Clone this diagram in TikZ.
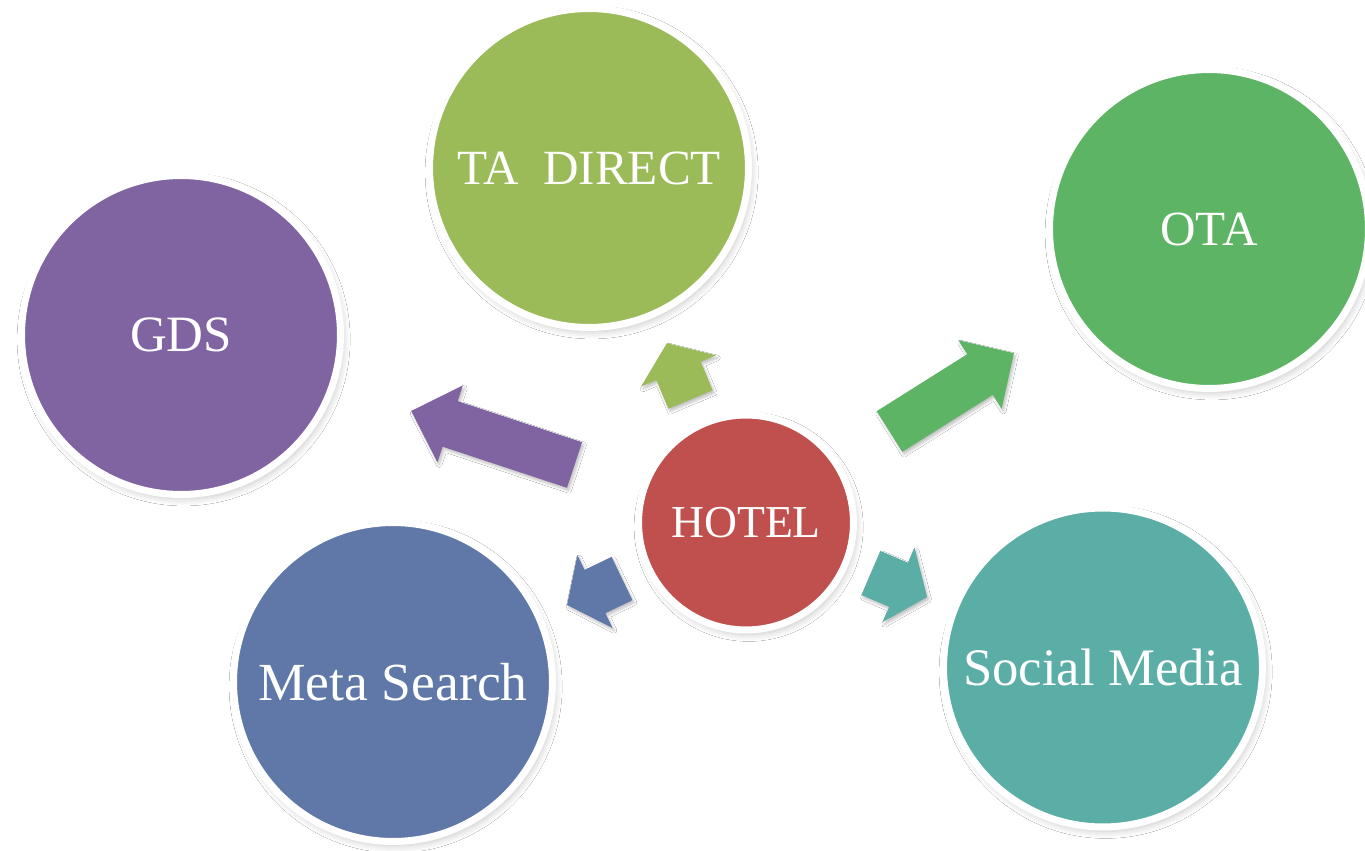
\documentclass[tikz,border=0pt]{standalone}
\usepackage{fontspec}
\setmainfont{Liberation Serif}
\usetikzlibrary{shadows,shadows.blur}

\definecolor{gdscol}{HTML}{8064A2}
\definecolor{tacol}{HTML}{9BBB59}
\definecolor{otacol}{HTML}{5CB464}
\definecolor{hotelcol}{HTML}{C0504D}
\definecolor{metacol}{HTML}{5F78A8}
\definecolor{socialcol}{HTML}{5BAEA5}

\tikzset{
  bubble/.style={circle, fill=#1, draw=white, line width=0.14cm, text=white,
    inner sep=0pt, minimum size=6.38cm, font=\fontsize{30.5}{36}\selectfont,
    blur shadow={shadow xshift=1.5pt, shadow yshift=-2.5pt, shadow blur radius=4pt,
      shadow opacity=22, shadow blur steps=12}},
  arrowshadow/.style={blur shadow={shadow xshift=1pt, shadow yshift=-1.5pt,
      shadow blur radius=1.5pt, shadow opacity=25, shadow blur steps=6}}
}

% block arrow: colour, tail middle, angle, length, head length
\newcommand{\blockarrow}[5]{%
  \begin{scope}[shift={(#2)}, rotate=#3]
    \fill[#1, arrowshadow] (0,-24) -- ({#4-#5},-24) -- ({#4-#5},-40.5) -- (#4,0)
      -- ({#4-#5},40.5) -- ({#4-#5},24) -- (0,24) -- cycle;
  \end{scope}}

\begin{document}
\begin{tikzpicture}[x=0.02cm, y=-0.02cm]
  \useasboundingbox[fill=white] (0,0) rectangle (1365,851);
  \clip (0,0) rectangle (1365,851);

  % outer circles
  \node[bubble=gdscol, font=\fontsize{29}{35}\selectfont] (gds) at (181,335) {GDS};
  \node[bubble=tacol, font=\fontsize{28}{34}\selectfont] (tadirect) at (589,168) {TA\ \ DIRECT};
  \node[bubble=otacol, font=\fontsize{28}{34}\selectfont] (ota) at (1209,229) {OTA};
  \node[bubble=metacol] (meta) at (393,682) {Meta Search};
  \node[bubble=socialcol, font=\fontsize{30}{36}\selectfont] (social) at (1103,667.5) {Social Media};

  % hotel in the middle
  \node[bubble=hotelcol, minimum size=4.3cm, font=\fontsize{26}{32}\selectfont] (hotel) at (746,522.5) {HOTEL};

  % arrows
  \blockarrow{gdscol}{574.5,465}{161.7}{172}{41}
  \blockarrow{tacol}{690.5,399.5}{112.6}{61}{30}
  \blockarrow{otacol}{889.5,431.5}{32.2}{147}{40}
  \blockarrow{socialcol}{871,573}{-23.2}{61}{31}
  \blockarrow{metacol}{622,578.5}{205.7}{61}{31}
\end{tikzpicture}
\end{document}
